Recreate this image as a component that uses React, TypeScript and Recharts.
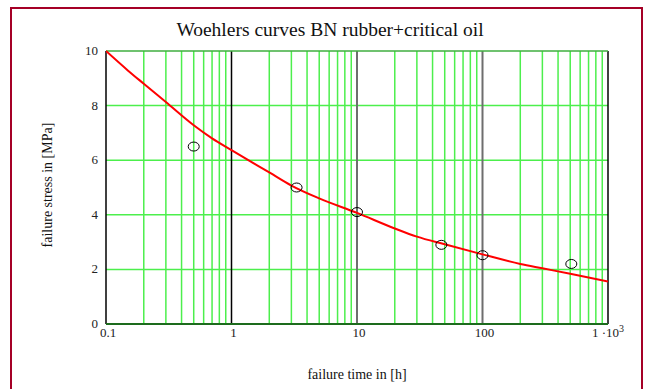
import React from 'react';
import { ComposedChart, Line, Scatter, XAxis, YAxis, ReferenceLine } from 'recharts';

// axis ticks
const timeTicks = [0.1, 1, 10, 100, 1000];
const stressTicks = [0, 2, 4, 6, 8, 10];

// log grid: minor lines inside each decade, and the inner decade lines
const minorTimes = [
  0.2, 0.3, 0.4, 0.5, 0.6, 0.7, 0.8, 0.9,
  2, 3, 4, 5, 6, 7, 8, 9,
  20, 30, 40, 50, 60, 70, 80, 90,
  200, 300, 400, 500, 600, 700, 800, 900,
];
const stressGrid = [2, 4, 6, 8];

// fitted Woehler curve
const curveTime = [0.1, 0.15, 0.2, 0.3, 0.5, 0.7, 1, 2, 3, 5, 10, 20, 30, 50, 100, 200, 300, 500, 1000];
const curveStress = [10, 9.28, 8.8, 8.13, 7.28, 6.8, 6.37, 5.55, 5.07, 4.6, 4.07, 3.5, 3.2, 2.92, 2.55, 2.2, 2.04, 1.84, 1.56];

// measured failures
const testTime = [0.5, 3.3, 10, 47, 100, 510];
const testStress = [6.5, 5.0, 4.1, 2.9, 2.52, 2.2];

const curve = curveTime.map((t, i) => ({ t, s: curveStress[i] }));
const tests = testTime.map((t, i) => ({ t, s: testStress[i] }));

const FONT = '"Liberation Serif", "Times New Roman", serif';

const TimeTick = ({ x, y, payload }: any) => {
  const v = payload.value;
  if (v === 1000) {
    return (
      <text x={x} y={y} dy={5} textAnchor="middle" fontFamily={FONT} fontSize={13} fill="#222">
        <tspan>1 ·10</tspan>
        <tspan dy={-5} fontSize={10}>3</tspan>
      </text>
    );
  }
  return (
    <text x={x + 2} y={y} dy={5} textAnchor="middle" fontFamily={FONT} fontSize={13} fill="#222">
      {v}
    </text>
  );
};

const StressTick = ({ x, y, payload }: any) => (
  <text x={x} y={y} dy={4} textAnchor="end" fontFamily={FONT} fontSize={13} fill="#222">
    {payload.value}
  </text>
);

const Ring = ({ cx, cy }: any) => (
  <ellipse cx={cx} cy={cy} rx={5.5} ry={4.5} fill="none" stroke="#000" strokeWidth={1} />
);

export default function App() {
  return (
    <div style={{ position: 'absolute', left: 0, top: 0, width: 645, height: 389, overflow: 'hidden', background: '#fff' }}>
      <div
        style={{
          position: 'absolute', left: 10, top: 7, width: 629, height: 420,
          border: '2px solid #a50026',
        }}
      />
      <div
        style={{
          position: 'absolute', left: 0, width: 660, top: 19, textAlign: 'center',
          fontFamily: FONT, fontSize: 19.5, color: '#111',
        }}
      >
        Woehlers curves BN rubber+critical oil
      </div>
      <div
        style={{
          position: 'absolute', left: 106, width: 502, top: 367, textAlign: 'center',
          fontFamily: FONT, fontSize: 14, color: '#111',
        }}
      >
        failure time in [h]
      </div>
      <div
        style={{
          position: 'absolute', left: 48, top: 187, width: 0, height: 0,
        }}
      >
        <div
          style={{
            position: 'absolute', left: -150, top: -10, width: 300, textAlign: 'center',
            fontFamily: FONT, fontSize: 14, color: '#111', transform: 'rotate(-90deg)',
            whiteSpace: 'nowrap',
          }}
        >
          failure stress in [MPa]
        </div>
      </div>
      <div style={{ position: 'absolute', left: 0, top: 0 }}>
        <ComposedChart width={645} height={389} margin={{ top: 51, right: 37, bottom: 35, left: 66 }}>
          <XAxis
            dataKey="t"
            type="number"
            scale="log"
            domain={[0.1, 1000]}
            ticks={timeTicks}
            allowDataOverflow
            axisLine={false}
            tickLine={false}
            height={30}
            tick={<TimeTick />}
          />
          <YAxis
            type="number"
            domain={[0, 10]}
            ticks={stressTicks}
            axisLine={false}
            tickLine={false}
            width={40}
            tick={<StressTick />}
          />
          {minorTimes.map((t) => (
            <ReferenceLine key={'m' + t} x={t} stroke="#4cef4c" strokeWidth={1.5} />
          ))}
          {stressGrid.map((s) => (
            <ReferenceLine key={'h' + s} y={s} stroke="#4cef4c" strokeWidth={1.5} />
          ))}
          <ReferenceLine x={1} stroke="#000" strokeWidth={1.5} />
          <ReferenceLine x={10} stroke="#6e6e6e" strokeWidth={2} />
          <ReferenceLine x={100} stroke="#6e6e6e" strokeWidth={2} />
          <ReferenceLine x={0.1} stroke="#000" strokeWidth={1.5} />
          <ReferenceLine x={1000} stroke="#000" strokeWidth={1.5} />
          <ReferenceLine y={10} stroke="#3fae3f" strokeWidth={1.5} />
          <ReferenceLine y={0} stroke="#1d6b1d" strokeWidth={2} />
          <Line
            data={curve}
            dataKey="s"
            type="monotone"
            stroke="#ff0000"
            strokeWidth={2}
            dot={false}
            isAnimationActive={false}
          />
          <Scatter data={tests} dataKey="s" shape={<Ring />} isAnimationActive={false} />
        </ComposedChart>
      </div>
    </div>
  );
}
